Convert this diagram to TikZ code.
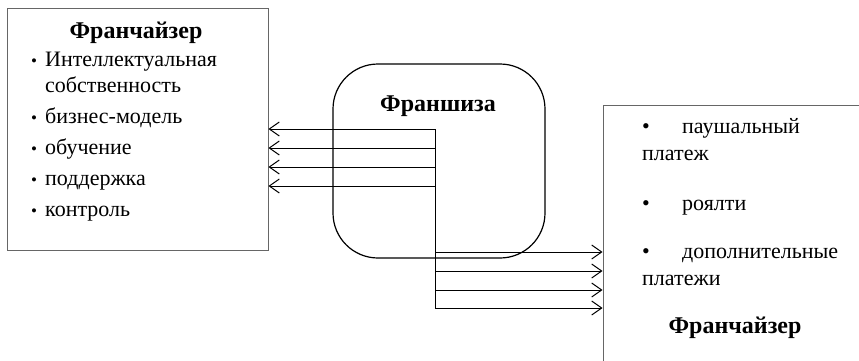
\documentclass[tikz,border=0pt]{standalone}
\usepackage{fontspec}
\setmainfont{Liberation Serif}
\usetikzlibrary{arrows.meta}
\begin{document}
\begin{tikzpicture}[x=1pt,y=-1pt,
  box/.style={draw=black!60,line width=0.9pt,inner sep=0pt},
  fr/.style={draw,line width=1.2pt,rounded corners=45pt,inner sep=0pt,minimum width=212pt,minimum height=194pt},
  t/.style={anchor=base west,inner sep=0pt,font=\fontsize{22}{22}\selectfont},
  h/.style={anchor=base,inner sep=0pt,font=\fontsize{24}{24}\selectfont\bfseries},
  a/.style={line width=1pt,-{Straight Barb[length=10pt,width=14pt]}}]
\useasboundingbox (0,0) rectangle (859,360);
\node[box,minimum width=261pt,minimum height=242pt] (lbox) at (137.5,129) {};
\node[box,minimum width=297pt,minimum height=295pt] (rbox) at (751.5,252.5) {};
\node[fr] (fbox) at (439,161) {};
\node[h] (lt) at (136,38) {Франчайзер};
\node[t] (l1b) at (31,66) {\fontsize{17}{17}\selectfont•};
\node[t] (l1) at (45,66) {Интеллектуальная};
\node[t] (l1c) at (45,92) {собственность};
\node[t] (l2b) at (31,123) {\fontsize{17}{17}\selectfont•};
\node[t] (l2) at (45,123) {бизнес-модель};
\node[t] (l3b) at (31,154) {\fontsize{17}{17}\selectfont•};
\node[t] (l3) at (45,154) {обучение};
\node[t] (l4b) at (31,185) {\fontsize{17}{17}\selectfont•};
\node[t] (l4) at (45,185) {поддержка};
\node[t] (l5b) at (31,216) {\fontsize{17}{17}\selectfont•};
\node[t] (l5) at (45,216) {контроль};
\node[h] (ft) at (438,111) {Франшиза};
\node[t] (r1b) at (642,133) {•};
\node[t] (r1) at (682,133) {паушальный};
\node[t] (r1c) at (642,160) {платеж};
\node[t] (r2b) at (642,210) {•};
\node[t] (r2) at (682,210) {роялти};
\node[t] (r3b) at (642,258) {•};
\node[t] (r3) at (682,258) {дополнительные};
\node[t] (r3c) at (642,285) {платежи};
\node[h] (rt) at (735,333) {Франчайзер};
\coordinate (s1) at (435,129);
\coordinate (s2) at (435,148);
\coordinate (s3) at (435,167);
\coordinate (s4) at (435,186);
\coordinate (d1) at (435,252);
\coordinate (d2) at (435,271);
\coordinate (d3) at (435,290);
\coordinate (d4) at (435,308);
\draw[line width=1pt] (s1)--(d4);
\draw[a] (s1)--(lbox.east |- s1);
\draw[a] (s2)--(lbox.east |- s2);
\draw[a] (s3)--(lbox.east |- s3);
\draw[a] (s4)--(lbox.east |- s4);
\draw[a] (d1)--(rbox.west |- d1);
\draw[a] (d2)--(rbox.west |- d2);
\draw[a] (d3)--(rbox.west |- d3);
\draw[a] (d4)--(rbox.west |- d4);
\end{tikzpicture}
\end{document}
